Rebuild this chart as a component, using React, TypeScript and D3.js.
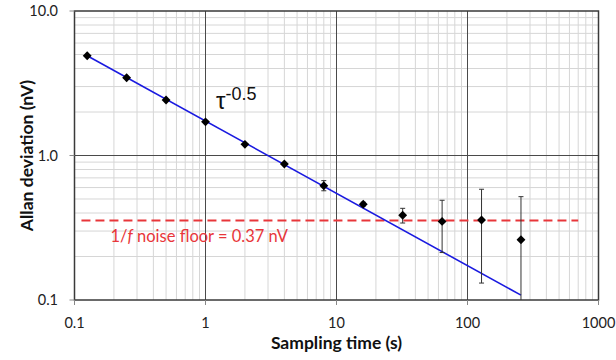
import React from "react";
import * as d3 from "d3";

const tau = [0.125, 0.25, 0.5, 1, 2, 4, 8, 16, 32, 64, 128, 256];
const adev = [4.9, 3.45, 2.42, 1.71, 1.195, 0.874, 0.618, 0.46, 0.386, 0.35, 0.358, 0.261];
const errHigh = [4.95, 3.48, 2.44, 1.72, 1.2, 0.885, 0.67, 0.475, 0.431, 0.49, 0.584, 0.519];
const errLow = [4.85, 3.42, 2.4, 1.7, 1.19, 0.862, 0.57, 0.447, 0.341, 0.213, 0.131, 0.05];
const fitLine = [
  { t: 0.125, v: 4.9 },
  { t: 256, v: 0.108 },
];
const floorLine = [
  { t: 0.113, v: 0.355 },
  { t: 700, v: 0.355 },
];
const xTicks = [0.1, 1, 10, 100, 1000];
const xTickLabels = ["0.1", "1", "10", "100", "1000"];
const yTicks = [0.1, 1, 10];
const yTickLabels = ["0.1", "1.0", "10.0"];

const W = 616;
const H = 360;
const L = 74.5;
const R = 598.5;
const T = 11;
const B = 300;

export default function App() {
  const x = d3.scaleLog().domain([0.1, 1000]).range([L, R]);
  const y = d3.scaleLog().domain([0.1, 10]).range([B, T]);

  const minorX: number[] = [];
  for (let d = 0.1; d < 1000; d *= 10) {
    for (let k = 2; k <= 9; k++) minorX.push(d * k);
  }
  const minorY: number[] = [];
  for (let d = 0.1; d < 10; d *= 10) {
    for (let k = 2; k <= 9; k++) minorY.push(d * k);
  }

  const line = d3
    .line<{ t: number; v: number }>()
    .x((d) => x(d.t))
    .y((d) => y(d.v));

  const diamond = d3.symbol().type(d3.symbolDiamond2).size(50)() as string;

  const tickFont = "Lato, 'Open Sans', sans-serif";

  return (
    <svg
      width={W}
      height={H}
      viewBox={`0 0 ${W} ${H}`}
      style={{ position: "absolute", left: 0, top: 0, background: "#fff" }}
    >
      <defs>
        <clipPath id="plot">
          <rect x={L} y={T} width={R - L} height={B - T} />
        </clipPath>
      </defs>
      <rect x={0} y={0} width={W} height={H} fill="#fff" />
      {/* minor grid */}
      {minorX.map((v, i) => (
        <line key={"mx" + i} x1={x(v)} x2={x(v)} y1={T} y2={B} stroke="#d6d6d6" strokeWidth={1} />
      ))}
      {minorY.map((v, i) => (
        <line key={"my" + i} x1={L} x2={R} y1={y(v)} y2={y(v)} stroke="#d6d6d6" strokeWidth={1} />
      ))}
      {/* major grid */}
      {[1, 10, 100].map((v) => (
        <line key={"Mx" + v} x1={x(v)} x2={x(v)} y1={T} y2={B} stroke="#4a4a4a" strokeWidth={1} />
      ))}
      <line x1={L} x2={R} y1={y(1)} y2={y(1)} stroke="#4a4a4a" strokeWidth={1} />
      {/* frame */}
      <rect x={L} y={T} width={R - L} height={B - T} fill="none" stroke="#3a3a3a" strokeWidth={1.5} />
      {/* ticks */}
      {xTicks.map((v, i) => (
        <g key={"xt" + i}>
          <line x1={x(v)} x2={x(v)} y1={B} y2={B + 5} stroke="#888" strokeWidth={1} />
          <text
            x={x(v)}
            y={328}
            textAnchor="middle"
            fontFamily={tickFont}
            fontSize={14.5}
            fill="#222"
          >
            {xTickLabels[i]}
          </text>
        </g>
      ))}
      {yTicks.map((v, i) => (
        <g key={"yt" + i}>
          <line x1={L - 5} x2={L} y1={y(v)} y2={y(v)} stroke="#888" strokeWidth={1} />
          <text
            x={58}
            y={y(v) + 5}
            textAnchor="end"
            fontFamily={tickFont}
            fontSize={14.5}
            fill="#222"
          >
            {yTickLabels[i]}
          </text>
        </g>
      ))}
      {/* axis titles */}
      <text
        x={(L + R) / 2}
        y={349}
        textAnchor="middle"
        fontFamily={tickFont}
        fontWeight="bold"
        fontSize={17.5}
        fill="#111"
      >
        Sampling time (s)
      </text>
      <text
        transform={`translate(33, ${(T + B) / 2}) rotate(-90)`}
        textAnchor="middle"
        fontFamily={tickFont}
        fontWeight="bold"
        fontSize={17.5}
        fill="#111"
      >
        Allan deviation (nV)
      </text>
      <g clipPath="url(#plot)">
        {/* floor line */}
        <path
          d={line(floorLine) as string}
          fill="none"
          stroke="#e8363a"
          strokeWidth={2}
          strokeDasharray="9,5"
        />
        {/* fit line */}
        <path d={line(fitLine) as string} fill="none" stroke="#1a1ae0" strokeWidth={1.6} />
        {/* error bars */}
        {tau.map((t, i) => (
          <g key={"e" + i} stroke="#333" strokeWidth={1}>
            <line x1={x(t)} x2={x(t)} y1={y(errHigh[i])} y2={y(errLow[i])} />
            <line x1={x(t) - 2.5} x2={x(t) + 2.5} y1={y(errHigh[i])} y2={y(errHigh[i])} />
            <line x1={x(t) - 2.5} x2={x(t) + 2.5} y1={y(errLow[i])} y2={y(errLow[i])} />
          </g>
        ))}
        {/* markers */}
        {tau.map((t, i) => (
          <path key={"m" + i} d={diamond} transform={`translate(${x(t)},${y(adev[i])})`} fill="#000" />
        ))}
      </g>
      {/* labels */}
      <text x={110.5} y={242} fontFamily={tickFont} fontSize={16.5} fill="#e8363a">
        1/<tspan fontStyle="italic">f</tspan> noise floor = 0.37 nV
      </text>
      <text x={216} y={109} fontFamily="'Liberation Sans', Arial, sans-serif" fontSize={24} fill="#111">
        τ
        <tspan fontSize={18} dy={-9}>
          -0.5
        </tspan>
      </text>
    </svg>
  );
}
